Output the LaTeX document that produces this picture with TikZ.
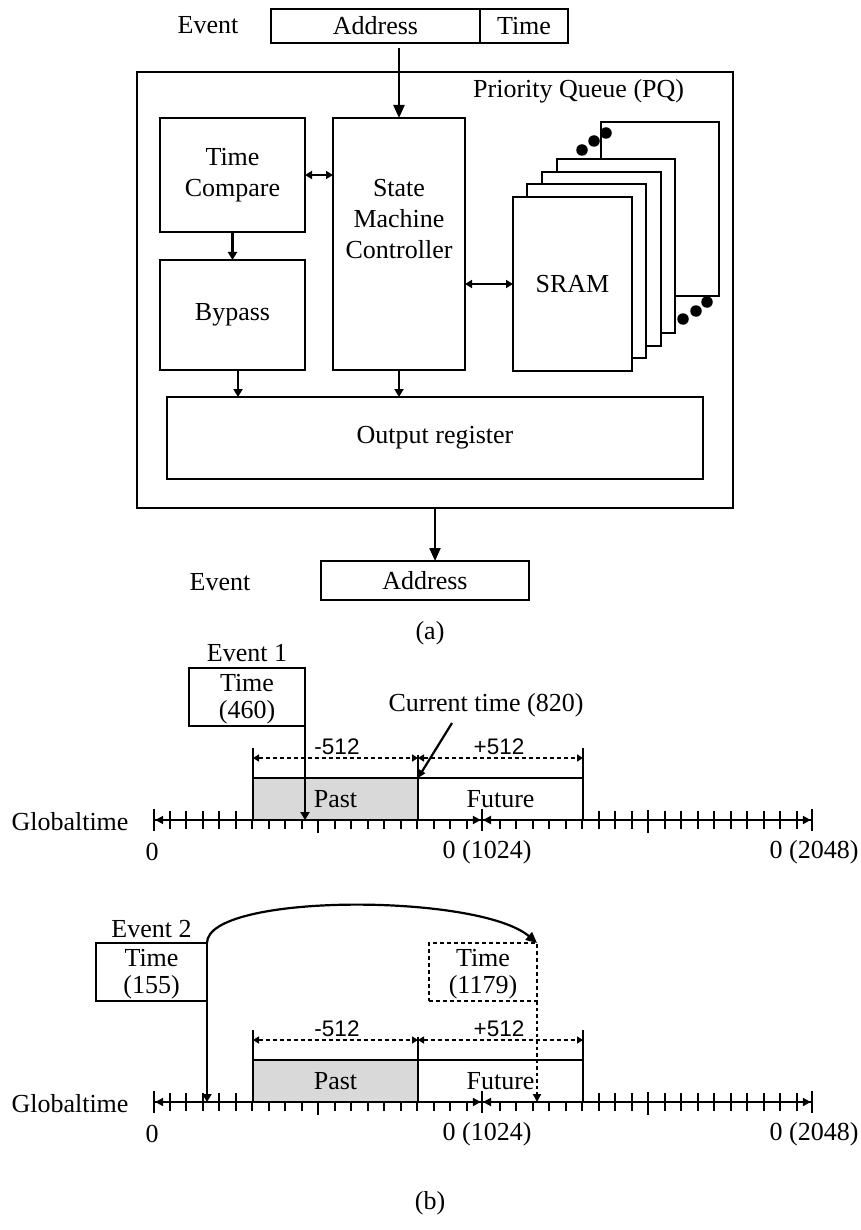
\documentclass[tikz,border=0pt]{standalone}
\usepackage{fontspec}
\setmainfont{Liberation Serif}
\newfontfamily\arialf{Liberation Sans}
\usetikzlibrary{arrows.meta}
\definecolor{pastgray}{HTML}{D9D9D9}
\newcommand\rsz{\fontsize{26pt}{30pt}\selectfont}
\newcommand\ssz{\arialf\fontsize{22.5pt}{26pt}\selectfont}
\begin{document}
\begin{tikzpicture}[x=1pt,y=-1pt,
  blk/.style={draw, line width=2.2pt, inner sep=0pt, outer sep=0pt, anchor=north west, fill=white},
  dblk/.style={blk, dash pattern=on 4pt off 3pt},
  tx/.style={inner sep=0pt, font=\rsz, align=center},
  sx/.style={inner sep=0pt, font=\ssz},
  bigarr/.style={line width=2.2pt, -{Triangle[length=13pt,width=11pt]}},
  midarr/.style={line width=2.2pt, -{Triangle[length=8pt,width=9pt]}},
  dblarr/.style={line width=2.2pt, {Triangle[length=7pt,width=8pt]}-{Triangle[length=7pt,width=8pt]}},
  tlarr/.style={line width=2.2pt, -{Triangle[length=8pt,width=9pt]}},
  tickl/.style={line width=2pt},
  axisA/.style={line width=2.2pt, {Bar[width=22pt]Triangle[length=8pt,width=8pt]}-{Triangle[length=8pt,width=8pt]Bar[width=22pt]}},
  axisB/.style={line width=2.2pt, {Triangle[length=8pt,width=8pt]}-{Triangle[length=8pt,width=8pt]Bar[width=22pt]}},
  dimarr/.style={line width=1.8pt, dash pattern=on 4pt off 3pt, {Triangle[length=6pt,width=7pt]}-{Triangle[length=6pt,width=7pt]}},
  dot/.style={circle, fill=black, inner sep=0pt, minimum size=11.5pt}
]
\useasboundingbox (0,0) rectangle (860,1230);

% ---------------- (a) ----------------
\node[tx] (evin) at (208,25) {Event};
\node[blk, minimum width=209pt, minimum height=34pt] (addr) at (271,9) {};
\node[tx] at (addr.center) {Address};
\node[blk, minimum width=88pt, minimum height=34pt] (tim) at (480,9) {};
\node[tx] at (tim.center) {Time};

\node[blk, minimum width=596pt, minimum height=436pt] (pq) at (137,72) {};
\node[tx, anchor=west] (pqt) at (473,91) {Priority Queue (PQ)};

\node[blk, minimum width=145pt, minimum height=114pt] (tc) at (160,118) {};
\node[tx, font=\fontsize{26pt}{31pt}\selectfont] at (tc.center) {Time\\Compare};
\node[blk, minimum width=145pt, minimum height=110pt] (bp) at (160,260) {};
\node[tx] at (bp.center) {Bypass};
\node[blk, minimum width=132pt, minimum height=252pt] (smc) at (333,118) {};
\node[tx, font=\fontsize{26pt}{31pt}\selectfont] (smct) at (399,219) {State\\Machine\\Controller};

\node[blk, minimum width=118pt, minimum height=174pt] (s5) at (601,122) {};
\node[blk, minimum width=118pt, minimum height=174pt] (s4) at (557,159) {};
\node[blk, minimum width=119pt, minimum height=174pt] (s3) at (542,172) {};
\node[blk, minimum width=119pt, minimum height=174pt] (s2) at (527,184) {};
\node[blk, minimum width=119pt, minimum height=174pt] (s1) at (513,197) {};
\node[tx] at (s1.center) {SRAM};
\node[dot] (d1) at (582,150) {};
\node[dot] (d2) at (594,141) {};
\node[dot] (d3) at (606,133) {};
\node[dot] (d4) at (683,319) {};
\node[dot] (d5) at (696,311) {};
\node[dot] (d6) at (707,302) {};

\node[blk, minimum width=536pt, minimum height=82pt] (out) at (167,397) {};
\node[tx] at (out.center) {Output register};

\node[tx] (evout) at (220,582) {Event};
\node[blk, minimum width=208pt, minimum height=39pt] (oaddr) at (321,561) {};
\node[tx] at (oaddr.center) {Address};

\draw[bigarr, shorten <=5pt] (smc.north |- addr.south) -- (smc.north);
\draw[dblarr] (tc.east) -- (tc.east -| smc.west);
\draw[dblarr] (s1.west -| smc.east) -- (s1.west);
\draw[midarr] (tc.south) -- (bp.north);
\draw[midarr] ([xshift=5.5pt]bp.south) -- ([xshift=5.5pt]bp.south |- out.north);
\draw[midarr] (smc.south) -- (smc.south |- out.north);
\draw[bigarr] (out.south |- pq.south) -- (out.south |- oaddr.north);

\node[tx] (capa) at (430,633) {(a)};

% ---------------- timelines ----------------
\foreach \s/\Y in {1/820,2/1102} {
  \coordinate (a0\s) at (153,\Y);
  \coordinate (am\s) at (483,\Y);
  \coordinate (ae\s) at (813,\Y);
  \node[blk, fill=pastgray, minimum width=165pt, minimum height=42pt] (past\s) at (253,\Y-42) {};
  \node[tx] at (past\s.center) {Past};
  \node[blk, minimum width=165pt, minimum height=42pt] (fut\s) at (418,\Y-42) {};
  \node[tx] at (fut\s.center) {Future};
  \foreach \k in {1,2,3,4,5,27,28,29,31,32,33,34,35,36,37,38,39}
    \draw[tickl] (153+16.5*\k,\Y-9) -- (153+16.5*\k,\Y+9);
  \foreach \k in {6,7,8,9,11,12,13,14,15,16,17,18,19,21,22,23,24,25,26}
    \draw[tickl] (153+16.5*\k,\Y) -- (153+16.5*\k,\Y+9);
  \draw[tickl] (153+16.5*10,\Y) -- (153+16.5*10,\Y+13);
  \draw[tickl] (153+16.5*30,\Y-10) -- (153+16.5*30,\Y+13);
  \draw[axisA] (a0\s) -- (am\s);
  \draw[axisB] (am\s) -- (ae\s);
  \draw[line width=2.2pt] (past\s.north west) -- ++(0,-30);
  \draw[line width=2.2pt] (past\s.north east) -- ++(0,-23);
  \draw[line width=2.2pt] (fut\s.north east) -- ++(0,-30);
  \draw[dimarr] ([yshift=20pt]past\s.north west) -- ([yshift=20pt]past\s.north east);
  \draw[dimarr] ([yshift=20pt]fut\s.north west) -- ([yshift=20pt]fut\s.north east);
  \node[sx] (m\s) at (337,\Y-73) {-512};
  \node[sx] (p\s) at (499,\Y-73) {+512};
  \node[tx] (gt\s) at (70,\Y+2) {Globaltime};
  \node[tx] (l0\s) at (152,\Y+32) {0};
  \node[tx] (l1\s) at (487,\Y+32) {0 (1024)};
  \node[tx] (l2\s) at (814,\Y+32) {0 (2048)};
}

% Timeline 1 specifics
\node[blk, minimum width=116pt, minimum height=58pt] (ev1) at (189,668) {};
\node[tx] at (247,683) {Time};
\node[tx] at (247,712) {(460)};
\node[tx] (ev1l) at (247,653) {Event 1};
\draw[tlarr] (ev1.south east) -- (ev1.south east |- a01);
\node[tx] (ct) at (486,705) {Current time (820)};
\coordinate (ctp) at (452,723);
\draw[line width=2.2pt, -{Triangle[length=8pt,width=7pt]}] (ctp) -- (past1.north east);

% Timeline 2 specifics
\node[blk, minimum width=111pt, minimum height=58pt] (ev2) at (96,943) {};
\node[tx] at (151.5,958) {Time};
\node[tx] at (151.5,987) {(155)};
\node[tx] (ev2l) at (151.5,929) {Event 2};
\draw[tlarr] (ev2.south east) -- (ev2.south east |- a02);
\node[dblk, minimum width=108pt, minimum height=58pt] (db) at (429,943) {};
\node[tx] at (483,958) {Time};
\node[tx] at (483,987) {(1179)};
\draw[line width=2.2pt, -{Triangle[length=11pt,width=10pt]}] (ev2.north east) .. controls (207,893) and (478,893) .. (db.north east);
\draw[line width=2.2pt, dash pattern=on 3.5pt off 3pt, -{Triangle[length=8pt,width=8pt]}] (db.south east) -- (db.south east |- a02);

\node[tx] (capb) at (430,1203) {(b)};
\end{tikzpicture}
\end{document}
